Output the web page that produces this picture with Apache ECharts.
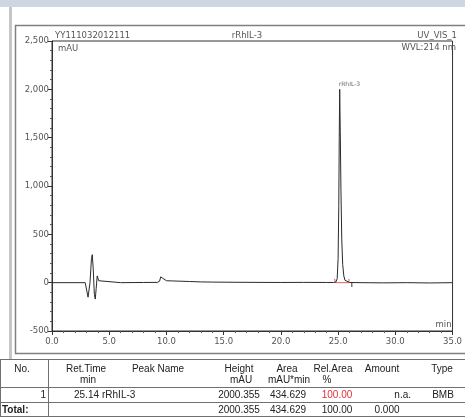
<!DOCTYPE html>
<html>
<head>
<meta charset="utf-8">
<script src="https://cdn.jsdelivr.net/npm/echarts@6/dist/echarts.min.js"></script>
<style>
html,body{margin:0;padding:0;background:#fff;}
#c{width:465px;height:417px;}
</style>
</head>
<body>
<div id="c"></div>
<script>
// ---- chromatogram data ----
var times = [0, 2.9, 3.05, 3.15, 3.22, 3.32, 3.45, 3.52, 3.6, 3.7,
  3.78, 3.86, 3.95, 4.0, 4.08, 4.2, 6, 8, 9.2, 9.4,
  9.5, 9.58, 9.68, 9.8, 10.0, 10.5, 11, 12, 13, 14,
  16, 18, 20, 22, 24, 24.6, 24.8, 24.92, 25.0, 25.06,
  25.1, 25.14, 25.19, 25.25, 25.32, 25.4, 25.5, 25.6, 25.75, 26.0,
  27, 29, 31, 33, 35];
var absorbance = [0, 0, -20, -150, -170, 0, 250, 290, 150, -120,
  -170, -60, 70, 90, 20, 0, 0, 2, 3, 15,
  60, 75, 45, 25, 20, 18, 16, 12, 8, 6,
  4, 3, 2, 3, 2, 2, 6, 40, 250, 800,
  1500, 2000, 1550, 950, 450, 190, 70, 25, 8, 2,
  0, -2, 0, -3, 0];
// peak integration delimiters
var delimTimes = [24.7, 24.75, 25.95, 25.95];
var delimValues = [40, 0, 0, 40];
var tickTimes = [26.2, 26.2];
var tickValues = [0, -45];
var peakLabel = {time: 25.14, height: 2000, name: 'rRhIL-3'};

// ---- axis ticks ----
var yMin = -500, yMax = 2500, yStep = 500;
var xMin = 0, xMax = 35, xStep = 5;

// ---- header texts ----
var headerLeft = 'YY111032012111';
var headerCenter = 'rRhIL-3';
var headerRight = 'UV_VIS_1';
var headerRight2 = 'WVL:214 nm';
var yUnit = 'mAU';
var xUnit = 'min';

// ---- result table ----
var tableHead1 = ['No.', 'Ret.Time', 'Peak Name', 'Height', 'Area', 'Rel.Area', 'Amount', 'Type'];
var tableHead2 = ['', 'min', '', 'mAU', 'mAU*min', '%', '', ''];
var tableRow1 = ['1', '25.14', 'rRhIL-3', '2000.355', '434.629', '100.00', 'n.a.', 'BMB'];
var tableTotal = ['Total:', '', '', '2000.355', '434.629', '100.00', '0.000', ''];

function zip(a, b) { return a.map(function (v, i) { return [v, b[i]]; }); }
function comma(v) { var s = String(Math.abs(v)); s = s.replace(/\B(?=(\d{3})+(?!\d))/g, ','); return (v < 0 ? '-' : '') + s; }

var chartFont = 'DejaVu Sans';
var tblFont = 'Liberation Sans, Arial, sans-serif';
var g = [];
// page decoration
g.push({type: 'rect', shape: {x: 0, y: 0, width: 465, height: 7}, style: {fill: '#cfd6e3'}, silent: true, z: -10});
g.push({type: 'rect', shape: {x: 9, y: 7, width: 3, height: 352}, style: {fill: '#c6c6c6'}, silent: true, z: -10});
g.push({type: 'rect', shape: {x: 15.5, y: 25.5, width: 470, height: 328}, style: {fill: 'none', stroke: '#808080', lineWidth: 1.5}, silent: true, z: -10});
// header texts
function txt(t, x, y, align, opt) {
  opt = opt || {};
  g.push({type: 'text', x: x, y: y, silent: true, style: {text: t, textAlign: align, textVerticalAlign: 'middle',
    font: (opt.weight || 'normal') + ' ' + (opt.size || 8.5) + 'px ' + (opt.family || chartFont), fill: opt.color || '#555'}});
}
txt(headerLeft, 55, 35.5, 'left');
txt(headerCenter, 247, 35.5, 'center');
txt(headerRight, 457, 35.5, 'right');
txt(headerRight2, 456, 48, 'right');

// table
var tTop = 359, tH1 = 369, tH2 = 380, tL1 = 387.5, tR1 = 395, tL2 = 402.5, tR2 = 410;
function hline(y) { g.push({type: 'line', silent: true, shape: {x1: 0, y1: y, x2: 465, y2: y}, style: {stroke: '#707070', lineWidth: 1}}); }
function vline(x, y1, y2) { g.push({type: 'line', silent: true, shape: {x1: x, y1: y1, x2: x, y2: y2}, style: {stroke: '#707070', lineWidth: 1}}); }
hline(tTop + 0.5); hline(tL1); hline(tL2); hline(416.5);
vline(0.5, tTop, 417); vline(48.5, tTop, 417);
var tc = {size: 10, family: tblFont, color: '#222'};
var colX = [22, 86, 158, 239, 287, 333, 382, 442];
for (var i = 0; i < tableHead1.length; i++) {
  txt(tableHead1[i], colX[i], tH1, 'center', tc);
  if (tableHead2[i]) txt(tableHead2[i], colX[i] + (i === 5 ? -6 : 2), tH2, 'center', tc);
}
txt(tableRow1[0], 46, tR1, 'right', tc);
txt(tableRow1[1], 99, tR1, 'right', tc);
txt(tableRow1[2], 102, tR1, 'left', tc);
txt(tableRow1[3], 239, tR1, 'center', tc);
txt(tableRow1[4], 288, tR1, 'center', tc);
txt(tableRow1[5], 337, tR1, 'center', {size: 10, family: tblFont, color: '#e0303a'});
txt(tableRow1[6], 411, tR1, 'right', tc);
txt(tableRow1[7], 443, tR1, 'center', tc);
txt(tableTotal[0], 2, tR2, 'left', {size: 10, family: tblFont, color: '#222', weight: 'bold'});
txt(tableTotal[3], 239, tR2, 'center', tc);
txt(tableTotal[4], 288, tR2, 'center', tc);
txt(tableTotal[5], 337, tR2, 'center', tc);
txt(tableTotal[6], 387, tR2, 'center', tc);

var chart = echarts.init(document.getElementById('c'), null, {renderer: 'canvas'});
chart.setOption({
  animation: false,
  backgroundColor: '#fff',
  grid: {left: 52, right: 8, top: 41, bottom: 86, show: true, borderColor: '#333', borderWidth: 1, backgroundColor: 'transparent'},
  xAxis: {
    type: 'value', min: xMin, max: xMax, interval: xStep,
    name: xUnit, nameLocation: 'end', nameGap: -1,
    nameTextStyle: {fontFamily: chartFont, fontSize: 8.5, color: '#555', align: 'right', verticalAlign: 'bottom', padding: [0, 0, 2, 0]},
    axisLine: {onZero: false, lineStyle: {color: '#333', width: 1}},
    axisTick: {show: true, length: 4, lineStyle: {color: '#333'}},
    minorTick: {show: true, splitNumber: 5, length: 2, lineStyle: {color: '#555'}},
    splitLine: {show: false},
    axisLabel: {fontFamily: chartFont, fontSize: 8.5, color: '#555', margin: 6, showMaxLabel: true, formatter: function (v) { return v.toFixed(1); }}
  },
  yAxis: {
    type: 'value', min: yMin, max: yMax, interval: yStep,
    name: yUnit, nameLocation: 'end', nameGap: -3,
    nameTextStyle: {fontFamily: chartFont, fontSize: 8.5, color: '#555', align: 'left', verticalAlign: 'top', padding: [0, 0, 0, 6]},
    axisLine: {show: true, lineStyle: {color: '#333', width: 1}},
    axisTick: {show: true, length: 4, lineStyle: {color: '#333'}},
    minorTick: {show: true, splitNumber: 5, length: 2, lineStyle: {color: '#555'}},
    splitLine: {show: false},
    axisLabel: {fontFamily: chartFont, fontSize: 8.5, color: '#555', margin: 3, formatter: comma}
  },
  graphic: g,
  series: [
    {type: 'line', data: zip(times, absorbance), showSymbol: false, symbol: 'none',
      lineStyle: {color: '#2a2a2a', width: 1}, z: 3},
    {type: 'line', data: zip(delimTimes, delimValues), showSymbol: false, symbol: 'none',
      lineStyle: {color: '#e06060', width: 1}, z: 2},
    {type: 'line', data: zip(tickTimes, tickValues), showSymbol: false, symbol: 'none',
      lineStyle: {color: '#333', width: 1}, z: 2},
    {type: 'scatter', data: [[peakLabel.time, peakLabel.height]], symbolSize: 0,
      label: {show: true, position: 'top', distance: 2, align: 'left', offset: [-1, 0], formatter: peakLabel.name,
        fontFamily: chartFont, fontSize: 6, color: '#444'}}
  ]
});
</script>
</body>
</html>
